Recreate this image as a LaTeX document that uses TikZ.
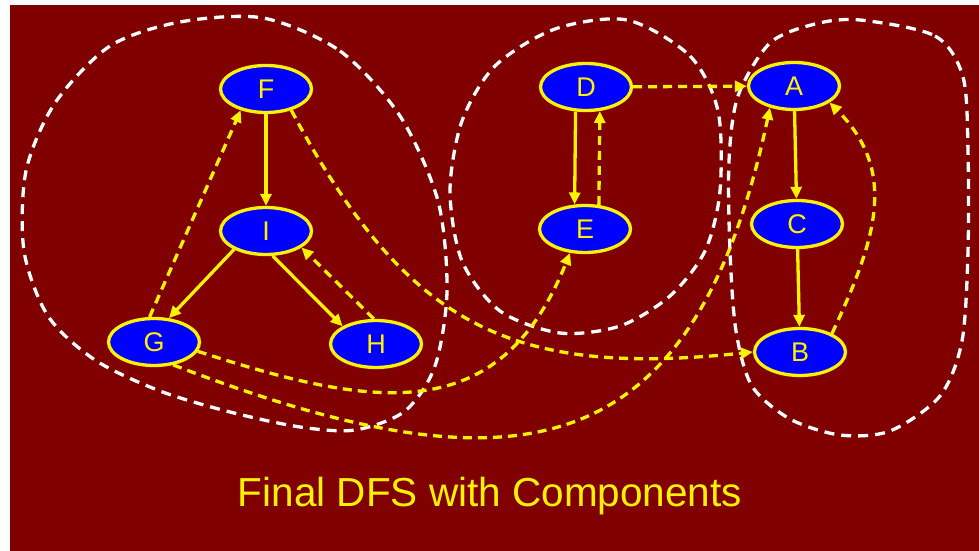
\documentclass[tikz,border=0pt]{standalone}
\usepackage{fontspec}
\setmainfont{Liberation Sans}
\usetikzlibrary{shapes.geometric,arrows.meta}
\definecolor{maroonbg}{RGB}{128,0,0}
\begin{document}
\begin{tikzpicture}[x=1pt,y=1pt,
  vertex/.style={ellipse,draw=yellow,fill=blue,line width=3.3pt,inner sep=0pt,
    minimum width=91pt,minimum height=47pt,text=yellow,font=\fontsize{27}{30}\selectfont},
  tree/.style={yellow,line width=3.3pt,-{Triangle[length=12pt,width=11pt]}},
  back/.style={tree,dash pattern=on 9pt off 6pt},
  comp/.style={white,line width=3.3pt,dash pattern=on 10pt off 7pt}]
\useasboundingbox (0,0) rectangle (979,551);
\fill[maroonbg] (10,0) rectangle (979,546);
\draw[comp] plot[smooth cycle] coordinates {(263,533) (340,500) (400,435) (438,350) (447,260)
  (435,185) (405,140) (355,121) (300,124) (230,139) (160,160) (95,191) (48,235) (24,300)
  (26,380) (55,448) (110,505) (180,529)};
\draw[comp] plot[smooth cycle] coordinates {(627,531) (690,495) (718,440) (720,360) (705,300)
  (670,255) (620,225) (560,218) (500,240) (462,290) (450,360) (462,430) (495,485) (555,522)};
\draw[comp] plot[smooth cycle] coordinates {(860,531) (935,515) (963,474) (968,400) (968,300)
  (962,210) (940,155) (890,120) (840,116) (790,132) (752,165) (736,220) (730,300) (729,390)
  (738,455) (770,508) (815,527)};
\node[vertex] (F) at (266,462) {F};
\node[vertex] (I) at (266,320) {I};
\node[vertex] (G) at (154,209) {G};
\node[vertex] (H) at (376,207) {H};
\node[vertex] (D) at (586,464) {D};
\node[vertex] (E) at (585,322) {E};
\node[vertex] (A) at (794,465) {A};
\node[vertex] (C) at (797,327) {C};
\node[vertex] (B) at (800,199) {B};
\draw[tree] (F) -- (I);
\draw[tree] (I.-150) -- (G.58);
\draw[tree] (I.-75) -- (H.152);
\draw[tree] (D.-113) -- (E.113);
\draw[tree] (A) -- (C);
\draw[tree] (C) -- (B);
\draw[back] (G.100) -- (F.-140);
\draw[back] (H.95) -- (I.-25);
\draw[back] (E.60) -- (D.-60);
\draw[back] (D) -- (A);
\draw[back] (F.-40) to[out=-62,in=186,looseness=1.2] (B.west);
\draw[back] (G.-12) to[out=-18,in=-112,looseness=1.25] (E.-122);
\draw[back] (G.-50) to[out=-21,in=-102,looseness=1.45] (A.-138);
\draw[back] (B.30) to[out=65,in=-45,looseness=1.1] (A.-25);
\node[anchor=base,text=yellow,font=\fontsize{40.5}{48}\selectfont] (title) at (490,44) {Final DFS with Components};
\end{tikzpicture}
\end{document}
